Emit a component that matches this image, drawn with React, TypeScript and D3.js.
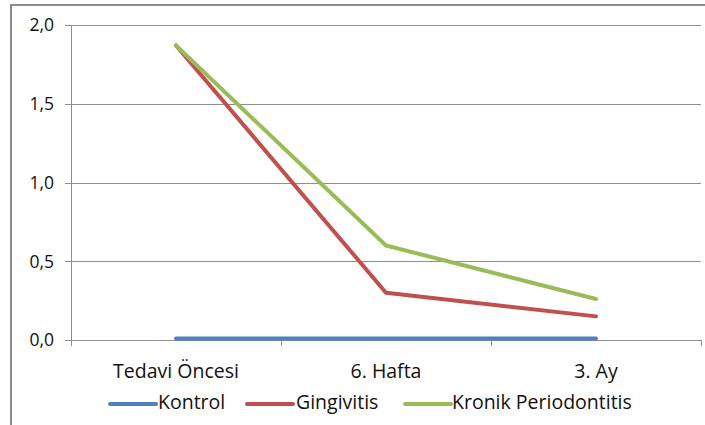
import React from "react";
import * as d3 from "d3";

const categories = ["Tedavi Öncesi", "6. Hafta", "3. Ay"];
const seriesNames = ["Kontrol", "Gingivitis", "Kronik Periodontitis"];
const kontrol = [0.01, 0.01, 0.01];
const gingivitis = [1.87, 0.3, 0.15];
const kronik = [1.87, 0.6, 0.26];
const yTicks = [0, 0.5, 1.0, 1.5, 2.0];
const colors = ["#4F81BD", "#C0504D", "#9BBB59"];

const W = 705;
const H = 425;
const plot = { left: 71, right: 701, top: 25, bottom: 340 };
const FONT = "'Open Sans', 'Noto Sans', sans-serif";

export default function App() {
  const x = d3
    .scaleBand<string>()
    .domain(categories)
    .range([plot.left, plot.right]);
  const y = d3.scaleLinear().domain([0, 2]).range([plot.bottom, plot.top]);
  const fmt = (v: number) => v.toFixed(1).replace(".", ",");

  const line = d3
    .line<number>()
    .x((_, i) => (x(categories[i]) as number) + x.bandwidth() / 2)
    .y((d) => y(d));

  const series = [kontrol, gingivitis, kronik];
  const drawOrder = [0, 1, 2];

  const bandEdges = categories.map((c) => x(c) as number).concat([plot.right]);

  const legendItems = [
    { x: 110, textX: 158 },
    { x: 247, textX: 296 },
    { x: 405, textX: 452 },
  ];

  return (
    <svg
      width={W}
      height={H}
      style={{ position: "absolute", left: 0, top: 0, background: "#fff" }}
    >
      <rect x={0} y={0} width={W} height={H} fill="#fff" />
      {/* chart frame (left and top edges visible) */}
      <rect
        x={11}
        y={5}
        width={W + 20}
        height={H + 20}
        fill="none"
        stroke="#8c8c8c"
        strokeWidth={2}
      />
      {/* horizontal gridlines + y ticks */}
      {yTicks.map((t) => (
        <g key={t}>
          <line
            x1={plot.left - 6}
            x2={plot.right}
            y1={Math.round(y(t)) + 0.5}
            y2={Math.round(y(t)) + 0.5}
            stroke="#8e8e8e"
            strokeWidth={1}
          />
          <text
            x={54}
            y={y(t)}
            dy="0.36em"
            textAnchor="end"
            fontFamily={FONT}
            fontSize={17.5}
            fill="#111"
          >
            {fmt(t)}
          </text>
        </g>
      ))}
      {/* y axis line */}
      <line
        x1={plot.left + 0.5}
        x2={plot.left + 0.5}
        y1={plot.top}
        y2={plot.bottom + 6}
        stroke="#8e8e8e"
      />
      {/* x category ticks */}
      {bandEdges.map((bx, i) => (
        <line
          key={i}
          x1={Math.round(bx) + 0.5}
          x2={Math.round(bx) + 0.5}
          y1={plot.bottom}
          y2={plot.bottom + 6}
          stroke="#8e8e8e"
        />
      ))}
      {categories.map((c) => (
        <text
          key={c}
          x={(x(c) as number) + x.bandwidth() / 2}
          y={377.5}
          textAnchor="middle"
          fontFamily={FONT}
          fontSize={19.5}
          fill="#111"
        >
          {c}
        </text>
      ))}
      {/* series lines */}
      {drawOrder.map((si) => (
        <path
          key={si}
          d={line(series[si]) || ""}
          fill="none"
          stroke={colors[si]}
          strokeWidth={4}
          strokeLinecap="round"
          strokeLinejoin="round"
        />
      ))}
      {/* legend */}
      {legendItems.map((li, i) => (
        <g key={i}>
          <line
            x1={li.x}
            x2={li.x + 46}
            y1={404}
            y2={404}
            stroke={colors[i]}
            strokeWidth={4}
            strokeLinecap="round"
          />
          <text
            x={li.textX}
            y={409}
            fontFamily={FONT}
            fontSize={19.5}
            fill="#111"
          >
            {seriesNames[i]}
          </text>
        </g>
      ))}
    </svg>
  );
}
